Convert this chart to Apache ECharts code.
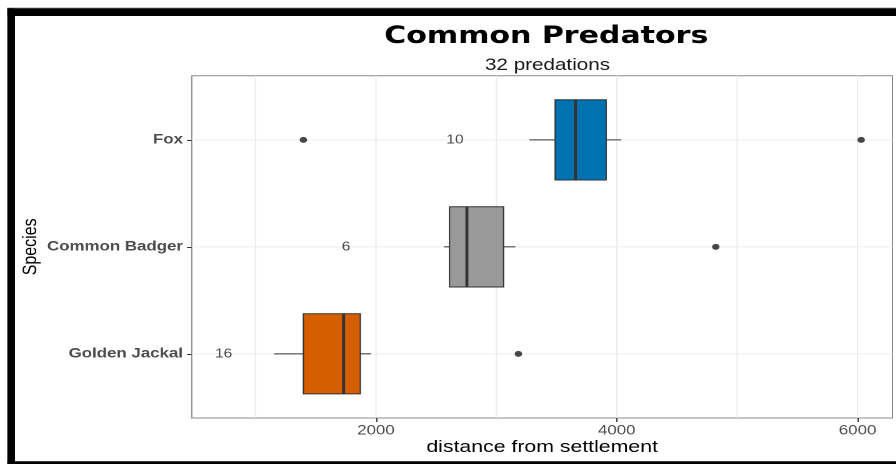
<!DOCTYPE html>
<html>
<head>
<meta charset="utf-8">
<script src="https://cdn.jsdelivr.net/npm/echarts@6/dist/echarts.min.js"></script>
<style>
html,body{margin:0;padding:0;background:#fff;overflow:hidden;}
#wrap{position:absolute;left:0;top:0;width:896px;height:464px;overflow:hidden;}
#c{position:absolute;left:0;top:0;width:716.8px;height:464px;transform:scaleX(1.25);transform-origin:0 0;}
</style>
</head>
<body>
<div id="wrap"><div id="c"></div></div>
<script>
// ---- data ----
const species = ['Golden Jackal', 'Common Badger', 'Fox'];
const whiskerLow = [1154, 2564, 3275];
const q1 = [1397, 2611, 3488];
const median = [1731, 2755, 3657];
const q3 = [1870, 3060, 3912];
const whiskerHigh = [1961, 3157, 4036];
const boxColors = ['#D55E00', '#999999', '#0072B2'];
const outlierSpecies = ['Golden Jackal', 'Common Badger', 'Fox', 'Fox'];
const outlierValues = [3183, 4822, 1397, 6030];
const counts = [16, 6, 10];
const countLabelX = [735, 1751, 2656];
const xTickValues = [2000, 4000, 6000];
const xGridValues = [1000, 2000, 3000, 4000, 5000, 6000];
const titleText = 'Common Predators';
const subtitleText = '32 predations';
const xTitle = 'distance from settlement';
const yTitle = 'Species';

const yPos = name => species.indexOf(name) + 1;

const boxData = species.map((s, i) => [i + 1, whiskerLow[i], q1[i], median[i], q3[i], whiskerHigh[i]]);
const outlierData = outlierValues.map((v, i) => [v, yPos(outlierSpecies[i])]);
const countData = counts.map((c, i) => [countLabelX[i], i + 1, c]);
// grid line items: [value, 0 = vertical (x value) | 1 = horizontal (y value)]
const gridData = xGridValues.map(v => [v, 0]).concat(species.map((s, i) => [i + 1, 1]));

const chart = echarts.init(document.getElementById('c'), null, {renderer: 'canvas', devicePixelRatio: 2});

const W = 716.8;
const option = {
  animation: false,
  backgroundColor: 'transparent',
  graphic: [
    {type: 'rect', z: 100, shape: {x: 5.84, y: 7.2, width: W, height: 1.1}, style: {fill: '#bdbdbd'}},
    {type: 'rect', z: 100, shape: {x: 5.84, y: 8.3, width: W, height: 7.7}, style: {fill: '#000'}},
    {type: 'rect', z: 100, shape: {x: 5.84, y: 8.3, width: 6.16, height: 460}, style: {fill: '#000'}},
    {type: 'rect', z: 100, shape: {x: 5.84, y: 461.3, width: W, height: 3}, style: {fill: '#000'}}
  ],
  title: [
    {text: titleText, left: 432, top: 20, textAlign: 'center',
     textStyle: {fontFamily: 'DejaVu Sans', fontWeight: 'bold', fontSize: 24, color: '#000'}},
    {text: subtitleText, left: 433, top: 52, textAlign: 'center',
     textStyle: {fontFamily: 'Liberation Sans', fontWeight: 'normal', fontSize: 16.5, color: '#1a1a1a'}}
  ],
  grid: {left: 153.4, right: 3.0, top: 75.7, bottom: 46, containLabel: false, outerBoundsMode: 'none',
         show: true, borderColor: '#8a8a8a', borderWidth: 1, backgroundColor: 'transparent'},
  xAxis: {
    type: 'value', min: 470, max: 6290,
    name: xTitle, nameLocation: 'middle', nameGap: 21, nameMoveOverlap: false,
    nameTextStyle: {fontFamily: 'Liberation Sans', fontSize: 17, color: '#000'},
    axisLine: {show: false},
    axisTick: {show: true, length: 4, customValues: xTickValues, lineStyle: {color: '#333'}},
    axisLabel: {show: true, customValues: xTickValues, margin: 6, fontFamily: 'Liberation Sans', fontSize: 13.5,
                color: '#4D4D4D', formatter: v => String(v)},
    splitLine: {show: false}
  },
  yAxis: {
    type: 'value', min: 0.4, max: 3.6,
    name: yTitle, nameLocation: 'middle', nameGap: 121, nameRotate: 90, nameMoveOverlap: false,
    nameTextStyle: {fontFamily: 'Liberation Sans', fontSize: 16, color: '#000'},
    axisLine: {show: false},
    axisTick: {show: true, length: 3.8, customValues: [1, 2, 3], lineStyle: {color: '#333'}},
    axisLabel: {show: true, customValues: [1, 2, 3], margin: 7, fontFamily: 'Liberation Sans', fontWeight: 'bold',
                fontSize: 13.5, color: '#4D4D4D', formatter: v => species[Math.round(v) - 1] || ''},
    splitLine: {show: false}
  },
  series: [
    {
      type: 'custom', z: 1, silent: true,
      data: gridData,
      encode: {x: 0},
      renderItem: function (params, api) {
        const cs = params.coordSys;
        const v = api.value(0);
        const dir = api.value(1);
        let shape;
        if (dir === 0) {
          const p = api.coord([v, 2]);
          shape = {x1: p[0], y1: cs.y, x2: p[0], y2: cs.y + cs.height};
        } else {
          const p = api.coord([1000, v]);
          shape = {x1: cs.x, y1: p[1], x2: cs.x + cs.width, y2: p[1]};
        }
        return {type: 'line', shape: shape, style: {stroke: '#EBEBEB', lineWidth: 1}};
      }
    },
    {
      type: 'custom', z: 3, silent: true,
      data: boxData,
      encode: {x: [1, 2, 3, 4, 5], y: 0},
      renderItem: function (params, api) {
        const y = api.value(0);
        const lo = api.coord([api.value(1), y]);
        const b1 = api.coord([api.value(2), y]);
        const md = api.coord([api.value(3), y]);
        const b3 = api.coord([api.value(4), y]);
        const hi = api.coord([api.value(5), y]);
        const h = Math.abs(api.size([0, 0.75])[1]);
        const col = boxColors[params.dataIndex];
        return {
          type: 'group',
          children: [
            {type: 'line', shape: {x1: lo[0], y1: lo[1], x2: b1[0], y2: b1[1]}, style: {stroke: '#333', lineWidth: 1}},
            {type: 'line', shape: {x1: b3[0], y1: b3[1], x2: hi[0], y2: hi[1]}, style: {stroke: '#333', lineWidth: 1}},
            {type: 'rect', shape: {x: b1[0], y: b1[1] - h / 2, width: b3[0] - b1[0], height: h},
             style: {fill: col, stroke: '#333', lineWidth: 1}},
            {type: 'line', shape: {x1: md[0], y1: md[1] - h / 2, x2: md[0], y2: md[1] + h / 2},
             style: {stroke: '#333', lineWidth: 2.4}}
          ]
        };
      }
    },
    {
      type: 'scatter', z: 4, silent: true,
      data: outlierData, symbol: 'circle', symbolSize: 6,
      itemStyle: {color: '#1a1a1a'}
    },
    {
      type: 'scatter', z: 4, silent: true,
      data: countData, symbolSize: 0,
      label: {show: true, position: 'inside', formatter: p => String(p.value[2]),
              fontFamily: 'Liberation Sans', fontSize: 12.5, color: '#1a1a1a'}
    }
  ]
};
chart.setOption(option);
</script>
</body>
</html>
